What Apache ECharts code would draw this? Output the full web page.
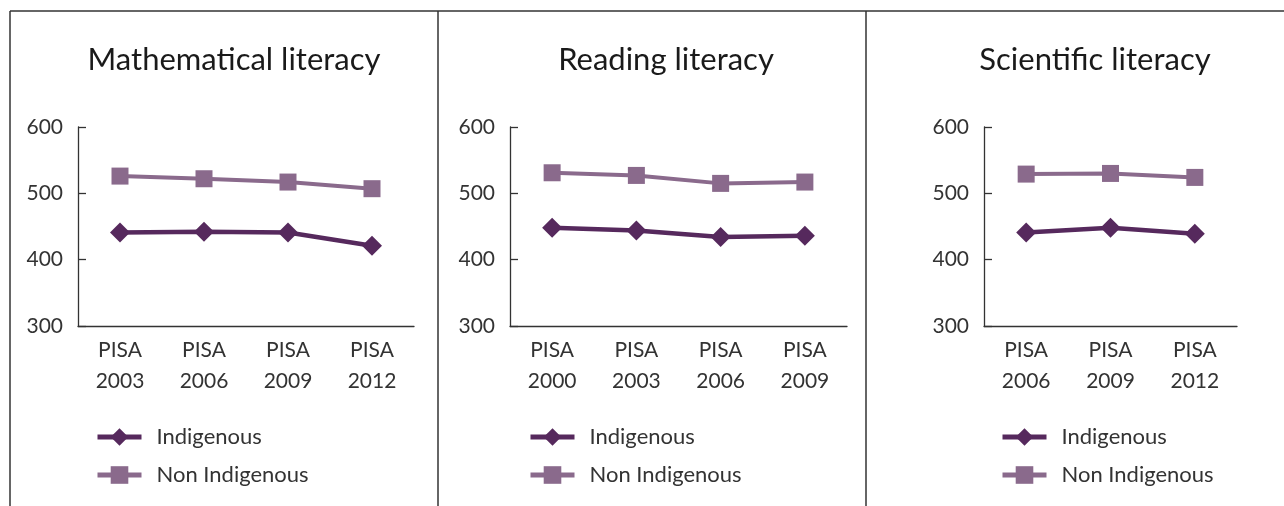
<!DOCTYPE html>
<html><head><meta charset="utf-8">
<script src="https://cdn.jsdelivr.net/npm/echarts@6/dist/echarts.min.js"></script>
<style>html,body{margin:0;padding:0;background:#fff}#c{width:1284px;height:506px}</style>
</head><body><div id="c"></div>
<script>
// ---- data ----
const mathCategories = ['PISA\n2003', 'PISA\n2006', 'PISA\n2009', 'PISA\n2012'];
const mathIndigenous = [441, 442, 441, 421];
const mathNonIndigenous = [526, 522, 517, 507];

const readCategories = ['PISA\n2000', 'PISA\n2003', 'PISA\n2006', 'PISA\n2009'];
const readIndigenous = [448, 444, 434, 436];
const readNonIndigenous = [531, 527, 515, 517];

const sciCategories = ['PISA\n2006', 'PISA\n2009', 'PISA\n2012'];
const sciIndigenous = [441, 448, 439];
const sciNonIndigenous = [529, 530, 524];

const titles = ['Mathematical literacy', 'Reading literacy', 'Scientific literacy'];
const seriesNames = ['Indigenous', 'Non Indigenous'];
const yTicks = [300, 400, 500, 600];

// ---- layout ----
const FONT = 'Lato, "Open Sans", sans-serif';
const C_IND = '#56295d';
const C_NON = '#8a6a8c';
const panels = [
  {cats: mathCategories, ind: mathIndigenous, non: mathNonIndigenous, left: 78, width: 336, titleX: 229, legendX: 90},
  {cats: readCategories, ind: readIndigenous, non: readNonIndigenous, left: 510, width: 337, titleX: 661, legendX: 523},
  {cats: sciCategories, ind: sciIndigenous, non: sciNonIndigenous, left: 984, width: 253, titleX: 1090, legendX: 995}
];

const option = {
  animation: false,
  backgroundColor: '#fff',
  title: panels.map((p, i) => ({
    text: titles[i], left: p.titleX, top: 39, textAlign: 'center',
    textStyle: {fontFamily: FONT, fontSize: 31, fontWeight: 'normal', color: '#1a1a1a'}
  })),
  legend: panels.map((p) => ({
    data: seriesNames, orient: 'vertical', left: p.legendX, top: 421,
    itemWidth: 44, itemHeight: 22, itemGap: 16,
    lineStyle: {width: 5},
    textStyle: {fontFamily: FONT, fontSize: 22, color: '#333', padding: [0, 0, 0, 10]}
  })),
  grid: panels.map((p) => ({left: p.left, width: p.width, top: 127, height: 199})),
  xAxis: panels.map((p, i) => ({
    type: 'category', gridIndex: i, data: p.cats, boundaryGap: true,
    axisLine: {lineStyle: {color: '#333', width: 1.3}},
    axisTick: {inside: true, length: 5, interval: 0, lineStyle: {color: '#333', width: 1.3}},
    axisLabel: {fontFamily: FONT, fontSize: 21, color: '#333', lineHeight: 31, margin: 9, interval: 0}
  })),
  yAxis: panels.map((p, i) => ({
    type: 'value', gridIndex: i, min: yTicks[0], max: yTicks[yTicks.length - 1], interval: 100,
    axisLine: {show: true, lineStyle: {color: '#333', width: 1.3}},
    axisTick: {show: true, inside: true, length: 8, lineStyle: {color: '#333', width: 1.3}},
    splitLine: {show: false},
    axisLabel: {fontFamily: FONT, fontSize: 21, color: '#333', margin: 15}
  })),
  series: panels.flatMap((p, i) => [
    {name: seriesNames[1], type: 'line', xAxisIndex: i, yAxisIndex: i, data: p.non,
     symbol: 'rect', symbolSize: 17, color: C_NON, lineStyle: {width: 4, color: C_NON}, itemStyle: {color: C_NON}},
    {name: seriesNames[0], type: 'line', xAxisIndex: i, yAxisIndex: i, data: p.ind,
     symbol: 'diamond', symbolSize: 20, color: C_IND, lineStyle: {width: 4.5, color: C_IND}, itemStyle: {color: C_IND}}
  ]),
  graphic: [
    {type: 'line', shape: {x1: 10, y1: 11, x2: 1284, y2: 11}, style: {stroke: '#333', lineWidth: 1.5}},
    {type: 'line', shape: {x1: 10, y1: 11, x2: 10, y2: 506}, style: {stroke: '#333', lineWidth: 1.5}},
    {type: 'line', shape: {x1: 438, y1: 11, x2: 438, y2: 506}, style: {stroke: '#333', lineWidth: 1.5}},
    {type: 'line', shape: {x1: 866, y1: 11, x2: 866, y2: 506}, style: {stroke: '#333', lineWidth: 1.5}}
  ]
};
const chart = echarts.init(document.getElementById('c'), null, {renderer: 'canvas'});
chart.setOption(option);
</script></body></html>
